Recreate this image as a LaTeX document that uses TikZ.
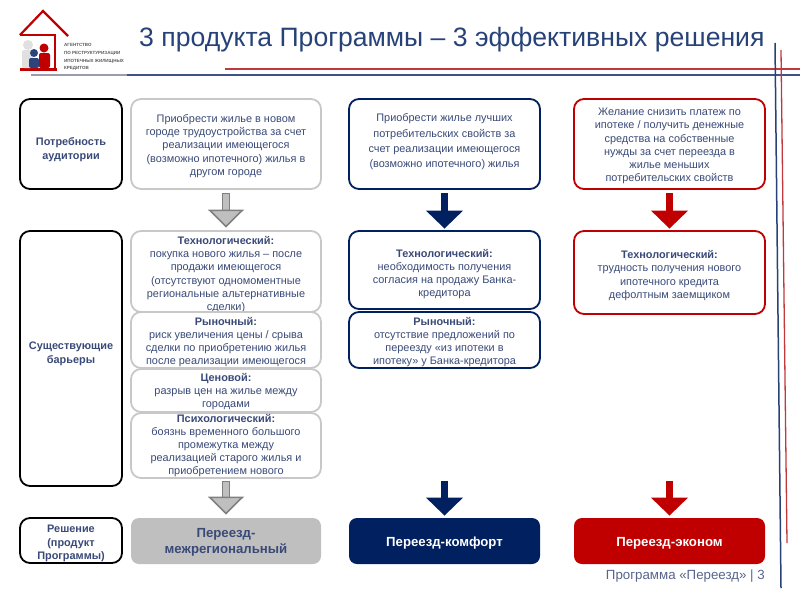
\documentclass[tikz,border=0pt]{standalone}
\usepackage{fontspec}
\setmainfont{Liberation Sans}
\usetikzlibrary{arrows.meta}
\definecolor{navy}{HTML}{002060}
\definecolor{txt}{HTML}{3A4A78}
\definecolor{crim}{HTML}{C00000}
\definecolor{greyb}{HTML}{BFBFBF}
\definecolor{greyl}{HTML}{C8C8C8}
\definecolor{linblue}{HTML}{3F5288}
\definecolor{linred}{HTML}{C0393F}
\tikzset{
  bx/.style={draw,rounded corners=10pt,line width=1.8pt,fill=white,inner sep=0pt,
    text=txt,font=\fontsize{10.9}{13.2}\selectfont},
  lab/.style={bx,draw=black,line width=1.8pt,font=\fontsize{10.9}{13.8}\selectfont\bfseries},
  gb/.style={bx,draw=greyl},
  nb/.style={bx,draw=navy},
  rb/.style={bx,draw=crim},
  sol/.style={bx,rounded corners=8pt,draw=none,font=\fontsize{13.2}{16}\selectfont\bfseries},
}
% style, x1, y1, x2, y2, name, downward shift of the text, text
\newcommand{\place}[8]{\node[#1,minimum width=#4pt-#2pt,minimum height=#5pt-#3pt] (#6) at ({(#2+#4)/2},{(#3+#5)/2})
  {\vbox to 0pt{\hsize=\dimexpr #4pt-#2pt-4pt\relax\vss\kern\dimexpr #7*2\relax\centering #8\par\kern0pt\vss}}}
\begin{document}
\begin{tikzpicture}[x=1pt,y=-1pt]
\useasboundingbox (0,0) rectangle (800,600);
% rules
\draw[linred,line width=1.5pt] (225,69) -- (800,69);
\draw[greyb!70!linblue,line width=1.2pt] (31,75) -- (127,75);
\draw[linblue,line width=1.8pt] (127,75) -- (800,75);
\draw[navy!85,line width=1.5pt] (775,43) -- (781,588);
\draw[linred,line width=1.3pt] (781,50) -- (787,543);
% logo
\draw[crim,line width=2.2pt,line join=miter] (20,35) -- (43,11) -- (68,36);
\draw[crim,line width=1.8pt] (20,35) -- (55,35) -- (55,69);
\fill[crim] (20,68) rectangle (57,71);
\fill[black!12,rounded corners=2pt] (22,50) rectangle (33,68);
\fill[black!12] (28,45) circle (5);
\fill[crim,rounded corners=2pt] (39,53) rectangle (50,68); \fill[crim] (44,48) circle (4.5);
\fill[linblue!70!navy,rounded corners=2pt] (29,58) rectangle (39,68); \fill[linblue!70!navy] (34,53) circle (4);
\node[anchor=north west,inner sep=0pt,align=left,text=black!65,font=\fontsize{4.5}{7.6}\selectfont\bfseries] (logotext) at (64,43.5)
 {АГЕНТСТВО\\ПО РЕСТРУКТУРИЗАЦИИ\\ИПОТЕЧНЫХ ЖИЛИЩНЫХ\\КРЕДИТОВ};
% title
\node[anchor=base west,inner sep=0pt,text=navy!85,font=\fontsize{26.6}{30}\selectfont] (title) at (139,46.5) {3 продукта Программы – 3 эффективных решения};
% row labels
\place{lab}{20}{99}{122}{189}{l1}{6pt}{Потребность\\аудитории};
\place{lab}{20}{231}{122}{486}{l2}{-4.5pt}{Существующие\\барьеры};
\place{lab}{20}{518}{122}{563}{l3}{3pt}{Решение\\(продукт\\Программы)};
% column 1
\place{gb}{131}{99}{321}{189}{a1}{2pt}{Приобрести жилье в новом\\городе трудоустройства за счет\\реализации имеющегося\\(возможно ипотечного) жилья в\\другом городе};
\place{gb}{131}{231}{321}{312}{a2}{3pt}{\textbf{Технологический:}\\покупка нового жилья – после\\продажи имеющегося\\(отсутствуют одномоментные\\региональные альтернативные\\сделки)};
\place{gb}{131}{312}{321}{368}{a3}{2pt}{\textbf{Рыночный:}\\риск увеличения цены / срыва\\сделки по приобретению жилья\\после реализации имеющегося};
\place{gb}{131}{369}{321}{412}{a4}{1pt}{\textbf{Ценовой:}\\разрыв цен на жилье между\\городами};
\place{gb}{131}{413}{321}{478}{a5}{0pt}{\textbf{Психологический:}\\боязнь временного большого\\промежутка между\\реализацией старого жилья и\\приобретением нового};
\place{sol,fill=greyb}{131}{518}{321}{564}{a6}{1.5pt}{Переезд-\\межрегиональный};
% column 2
\place{nb,font=\fontsize{10.9}{15.4}\selectfont}{349}{99}{540}{189}{b1}{-2pt}{Приобрести жилье лучших\\потребительских свойств за\\счет реализации имеющегося\\(возможно ипотечного) жилья};
\place{nb}{349}{231}{540}{309}{b2}{4pt}{\textbf{Технологический:}\\необходимость получения\\согласия на продажу Банка-\\кредитора};
\place{nb}{349}{312}{540}{368}{b3}{2pt}{\textbf{Рыночный:}\\отсутствие предложений по\\переезду «из ипотеки в\\ипотеку» у Банка-кредитора};
\place{sol,fill=navy,text=white}{349}{518}{540}{564}{b6}{2pt}{Переезд-комфорт};
% column 3
\place{rb}{574}{99}{765}{189}{c1}{2pt}{Желание снизить платеж по\\ипотеке / получить денежные\\средства на собственные\\нужды за счет переезда в\\жилье меньших\\потребительских свойств};
\place{rb}{574}{231}{765}{314}{c2}{3pt}{\textbf{Технологический:}\\трудность получения нового\\ипотечного кредита\\дефолтным заемщиком};
\place{sol,fill=crim,text=white}{574}{518}{765}{564}{c6}{2pt}{Переезд-эконом};
% free ends of the lower arrows
\coordinate (a7) at (a6.north |- 0,477);
\coordinate (b7) at (b6.north |- 0,477);
\coordinate (c7) at (c6.north |- 0,477);
% arrows
\foreach \s/\e in {a1/a2,a7/a6}{
  \draw[line width=8pt,black!50,shorten <=3.5pt,shorten >=14pt] (\s.south) -- (\e.north);
  \draw[line width=5.4pt,greyb,shorten <=4.5pt,shorten >=2.5pt,-{Triangle[width=36pt,length=18pt,line width=1.6pt,color=black!50,fill=greyb,sep=0pt]}] (\s.south) -- (\e.north);
}
\foreach \s/\e in {b1/b2,b7/b6}{
  \draw[line width=7pt,navy,shorten <=3.5pt,shorten >=1.5pt,-{Triangle[width=36pt,length=18pt,sep=0pt]}] (\s.south) -- (\e.north);
}
\foreach \s/\e in {c1/c2,c7/c6}{
  \draw[line width=6.5pt,crim,shorten <=3.5pt,shorten >=1.5pt,-{Triangle[width=36pt,length=18pt,sep=0pt]}] (\s.south) -- (\e.north);
}
% footer
\node[anchor=base east,inner sep=0pt,text=txt!85,font=\fontsize{13.3}{15}\selectfont] (foot) at (765,579) {Программа «Переезд» | 3};
\end{tikzpicture}
\end{document}
